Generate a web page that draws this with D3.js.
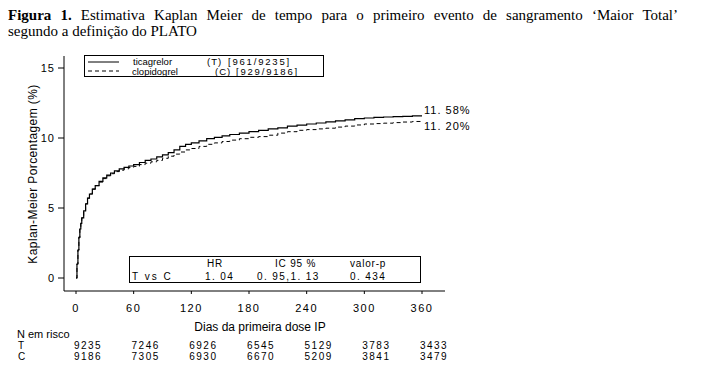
<!DOCTYPE html>
<html><head><meta charset="utf-8">
<script src="https://cdn.jsdelivr.net/npm/d3@7"></script>
<style>
html,body{margin:0;padding:0;background:#fff;}
svg text{font-family:"Liberation Sans",Arial,sans-serif;fill:#000;}
.title{font-family:"Liberation Serif","Times New Roman",serif !important;font-size:15px;}
</style></head>
<body>
<svg id="c" width="708" height="383"></svg>
<script>
// ---- data ----
const titleLine1 = "Estimativa Kaplan Meier de tempo para o primeiro evento de sangramento ‘Maior Total’";
const titleLine2 = "segundo a definição do PLATO";
const xTicks = [0, 60, 120, 180, 240, 300, 360];
const yTicks = [0, 5, 10, 15];
const seriesNames = ["ticagrelor", "clopidogrel"];
const seriesCodes = ["(T)", "(C)"];
const seriesEvents = ["[961/9235]", "[929/9186]"];
const endLabels = ["11. 58%", "11. 20%"];
const days = [0,1,2,3,4,5,6,8,10,12,14,17,20,24,28,32,36,40,45,50,55,60,66,72,78,84,90,96,102,108,114,120,128,136,144,152,160,170,180,190,200,210,220,230,240,250,260,270,280,290,300,310,320,330,340,350,360];
const ticagrelor = [0,1.0,2.0,2.9,3.5,3.9,4.3,4.8,5.3,5.7,6.0,6.35,6.6,6.9,7.15,7.35,7.5,7.65,7.8,7.9,8.0,8.1,8.25,8.4,8.5,8.65,8.8,8.95,9.15,9.4,9.55,9.65,9.8,9.95,10.05,10.15,10.25,10.35,10.45,10.55,10.65,10.72,10.85,10.92,11.0,11.07,11.15,11.22,11.3,11.38,11.43,11.47,11.5,11.52,11.55,11.58,11.58];
const clopidogrel = [0,1.0,2.0,2.9,3.5,3.9,4.3,4.8,5.3,5.7,6.0,6.35,6.6,6.85,7.1,7.3,7.45,7.6,7.7,7.8,7.9,7.97,8.1,8.2,8.3,8.4,8.55,8.7,8.85,9.0,9.15,9.25,9.4,9.55,9.65,9.75,9.85,9.95,10.05,10.1,10.2,10.35,10.45,10.55,10.6,10.65,10.7,10.78,10.85,10.93,11.0,11.03,11.06,11.1,11.14,11.18,11.2];
const statHeaders = ["HR", "IC 95 %", "valor-p"];
const statComparison = "T vs C";
const statValues = ["1. 04", "0. 95,1. 13", "0. 434"];
const riskTitle = "N em risco";
const riskGroups = ["T", "C"];
const riskT = [9235, 7246, 6926, 6545, 5129, 3783, 3433];
const riskC = [9186, 7305, 6930, 6670, 5209, 3841, 3479];
const xLabel = "Dias da primeira dose IP";
const yLabel = "Kaplan-Meier Porcentagem (%)";

// ---- layout ----
const svg = d3.select("#c");
const x = d3.scaleLinear().domain([0, 360]).range([76, 422]);
const y = d3.scaleLinear().domain([0, 15]).range([278, 68]);

// title
const t1 = svg.append("text").attr("class","title").attr("x",8).attr("y",20);
t1.append("tspan").attr("font-weight","bold").text("Figura 1.");
t1.append("tspan").text(" " + titleLine1);
const natural = t1.node().getComputedTextLength();
const spaces = ("Figura 1. " + titleLine1).split(" ").length - 1;
t1.attr("word-spacing", ((678 - 8) - natural) / spaces);
svg.append("text").attr("class","title").attr("x",8).attr("y",36).text(titleLine2);

// axes lines
svg.append("line").attr("x1",64).attr("x2",64).attr("y1",56).attr("y2",291).attr("stroke","#000");
svg.append("line").attr("x1",64).attr("x2",445).attr("y1",291).attr("y2",291).attr("stroke","#000");

// y ticks
const yg = svg.append("g");
yTicks.forEach(v => {
  yg.append("line").attr("x1",58).attr("x2",64).attr("y1",y(v)).attr("y2",y(v)).attr("stroke","#000");
  yg.append("text").attr("x",55).attr("y",y(v)+4).attr("text-anchor","end")
    .attr("font-size",11).attr("letter-spacing",1).text(v);
});
// x ticks
const xg = svg.append("g");
xTicks.forEach(v => {
  xg.append("line").attr("x1",x(v)).attr("x2",x(v)).attr("y1",291).attr("y2",294).attr("stroke","#000");
  xg.append("text").attr("x",x(v)).attr("y",312).attr("text-anchor","middle")
    .attr("font-size",11).attr("letter-spacing",1.5).text(v);
});
svg.append("text").attr("x",260).attr("y",331).attr("text-anchor","middle").attr("font-size",12).text(xLabel);
svg.append("text").attr("transform","translate(37,174) rotate(-90)").attr("text-anchor","middle")
  .attr("font-size",12).attr("letter-spacing",0.4).text(yLabel);

// curves
const line = d3.line().x(d => x(d[0])).y(d => y(d[1])).curve(d3.curveStepAfter);
const sT = days.map((d,i) => [d, ticagrelor[i]]);
const sC = days.map((d,i) => [d, clopidogrel[i]]);
svg.append("path").datum(sC).attr("d", line).attr("fill","none").attr("stroke","#000").attr("stroke-width",1).attr("stroke-dasharray","4,3");
svg.append("path").datum(sT).attr("d", line).attr("fill","none").attr("stroke","#000").attr("stroke-width",1.2);

// end labels
svg.append("text").attr("x",424).attr("y",y(ticagrelor[ticagrelor.length-1])-2).attr("font-size",11).attr("letter-spacing",1).text(endLabels[0]);
svg.append("text").attr("x",424).attr("y",y(clopidogrel[clopidogrel.length-1])+9).attr("font-size",11).attr("letter-spacing",1).text(endLabels[1]);

// legend
svg.append("rect").attr("x",84.5).attr("y",55.5).attr("width",239).attr("height",21).attr("fill","#fff").attr("stroke","#000");
svg.append("line").attr("x1",88).attr("x2",119).attr("y1",62).attr("y2",62).attr("stroke","#000");
svg.append("line").attr("x1",88).attr("x2",119).attr("y1",71).attr("y2",71).attr("stroke","#000").attr("stroke-dasharray","4,3");
const lfs = 9.5;
svg.append("text").attr("x",133).attr("y",65).attr("font-size",lfs).text(seriesNames[0]);
svg.append("text").attr("x",132).attr("y",75).attr("font-size",lfs).text(seriesNames[1]);
svg.append("text").attr("x",207).attr("y",65).attr("font-size",lfs).attr("letter-spacing",1).text(seriesCodes[0]);
svg.append("text").attr("x",215).attr("y",75).attr("font-size",lfs).attr("letter-spacing",1).text(seriesCodes[1]);
svg.append("text").attr("x",228).attr("y",65).attr("font-size",lfs).attr("letter-spacing",1.8).text(seriesEvents[0]);
svg.append("text").attr("x",236).attr("y",75).attr("font-size",lfs).attr("letter-spacing",1.8).text(seriesEvents[1]);

// stats box
svg.append("rect").attr("x",129.5).attr("y",256.5).attr("width",291).attr("height",26).attr("fill","#fff").attr("stroke","#000");
const statX = [207, 275, 350];
const sfs = 10;
statHeaders.forEach((h,i) => svg.append("text").attr("x",statX[i]).attr("y",267).attr("font-size",sfs).attr("letter-spacing",0.8).text(h));
svg.append("text").attr("x",132).attr("y",280).attr("font-size",sfs).attr("letter-spacing",2).text(statComparison);
svg.append("text").attr("x",205).attr("y",280).attr("font-size",sfs).attr("letter-spacing",1.4).text(statValues[0]);
svg.append("text").attr("x",257).attr("y",280).attr("font-size",sfs).attr("letter-spacing",1.4).text(statValues[1]);
svg.append("text").attr("x",350).attr("y",280).attr("font-size",sfs).attr("letter-spacing",1.4).text(statValues[2]);

// risk table
const rfs = 10;
svg.append("text").attr("x",17).attr("y",338).attr("font-size",11).text(riskTitle);
[riskT, riskC].forEach((arr, r) => {
  const yy = 349 + r*11;
  svg.append("text").attr("x",18).attr("y",yy).attr("font-size",rfs).text(riskGroups[r]);
  arr.forEach((v,i) => svg.append("text").attr("x",x(xTicks[i])+12).attr("y",yy)
    .attr("text-anchor","middle").attr("font-size",rfs).attr("letter-spacing",1.5).text(v));
});
</script>
</body></html>
